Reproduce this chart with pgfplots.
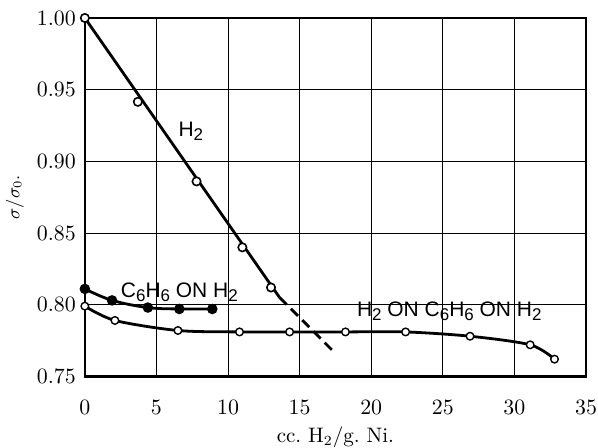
\documentclass[border=0pt]{standalone}
\usepackage{fontspec}
\usepackage{pgfplots}
\pgfplotsset{compat=1.18}
\newfontfamily\hand{Liberation Sans}
\newcommand{\sub}[1]{\raisebox{-0.35ex}{\fontsize{8.5}{8.5}\selectfont #1}}

\begin{document}
\begin{tikzpicture}
\begin{axis}[
  scale only axis,
  width=251pt, height=179.5pt,
  xmin=0, xmax=35, ymin=0.75, ymax=1.00,
  xtick={0,5,...,35},
  ytick={0.75,0.80,...,1.00},
  yticklabel style={xshift=-1pt, /pgf/number format/fixed, /pgf/number format/fixed zerofill, /pgf/number format/precision=2},
  grid=major,
  grid style={black, line width=0.45pt},
  major tick length=0pt,
  axis line style={line width=1.3pt},
  tick label style={font=\fontsize{11}{13}\selectfont},
  xticklabel style={yshift=-8.5pt},
  xlabel={cc.\ H$_2$/g.\ Ni.},
  ylabel={$\sigma/\sigma_0.$},
  xlabel style={font=\fontsize{10.5}{12}\selectfont, at={(axis description cs:0.5,0)}, anchor=center, yshift=-30.5pt},
  ylabel style={font=\small, at={(axis description cs:0,0.5)}, anchor=center, yshift=35pt},
  clip=false,
]
% H2 series: markers first, line on top
\addplot[only marks, mark=*, mark size=2.1pt, mark options={fill=white, draw=black, line width=0.8pt}]
  coordinates {(0,1.000) (3.7,0.9415) (7.8,0.886) (11.0,0.840) (13.0,0.812)};
\addplot[line width=1.4pt] coordinates {(0,1.000) (13.6,0.805)};
\addplot[line width=1.4pt, dash pattern=on 5pt off 3pt] coordinates {(13.6,0.805) (17.4,0.767)};

% C6H6 on H2 series
\addplot[line width=1.4pt, smooth, tension=0.6, mark=*, mark size=1.9pt]
  coordinates {(0,0.811) (1.9,0.803) (4.4,0.798) (6.6,0.797) (8.9,0.797)};

% H2 on C6H6 on H2 series
\addplot[line width=1.4pt, smooth, tension=0.5, mark=*, mark size=1.9pt,
  mark options={fill=white, line width=0.7pt}]
  coordinates {(0,0.799) (2.1,0.789) (6.5,0.782) (10.8,0.781) (14.3,0.781)
    (18.2,0.781) (22.4,0.781) (26.9,0.778) (31.1,0.772) (32.8,0.762)};

\node[font=\hand\fontsize{10.5}{12}\selectfont] at (axis cs:7.4,0.921) {H\sub{2}};
\node[font=\hand\fontsize{10.5}{12}\selectfont] at (axis cs:6.6,0.8085) {C\sub{6}H\sub{6} ON H\sub{2}};
\node[font=\hand\fontsize{10.5}{12}\selectfont] at (axis cs:25.45,0.7953) {H\sub{2} ON C\sub{6}H\sub{6} ON H\sub{2}};
\end{axis}
\pgfresetboundingbox
\path ([xshift=-42.5pt,yshift=-35.5pt]current axis.south west) rectangle ([xshift=6pt,yshift=9pt]current axis.north east);
\end{tikzpicture}
\end{document}
